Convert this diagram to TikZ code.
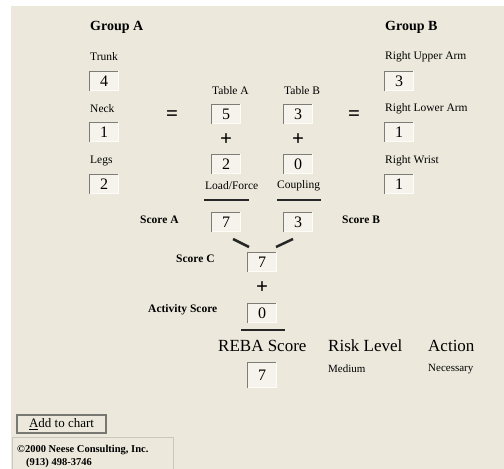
\documentclass[tikz,border=0pt]{standalone}
\usepackage{fontspec}
\setmainfont{Liberation Serif}
\definecolor{panel}{RGB}{236,233,220}
\definecolor{boxfill}{RGB}{245,243,235}
\definecolor{edgedark}{RGB}{125,125,120}
\definecolor{edgelight}{RGB}{252,252,248}
\definecolor{btnedge}{RGB}{120,120,115}
\definecolor{cpedge}{RGB}{200,200,190}
\tikzset{
  lbl/.style={anchor=west, inner sep=0pt, font=\fontsize{11.5}{13}\selectfont},
  blbl/.style={lbl, font=\bfseries\fontsize{11.5}{13}\selectfont},
  head/.style={anchor=west, inner sep=0pt, font=\bfseries\fontsize{14}{16}\selectfont},
  big/.style={anchor=west, inner sep=0pt, font=\fontsize{17}{19}\selectfont},
  numbox/.style={fill=boxfill, minimum width=28pt, minimum height=19pt, inner sep=0pt, font=\fontsize{16}{18}\selectfont},
  op/.style={inner sep=0pt, font=\bfseries\fontsize{21}{23}\selectfont},
  bar/.style={line width=2.5pt, black!85},
  edge/.style={edgedark, line width=1.3pt},
  hilite/.style={edgelight, line width=1pt}
}
\begin{document}
\begin{tikzpicture}[x=1pt, y=-1pt]
        \useasboundingbox (0,0) rectangle (504,469);
        \fill[white] (0,0) rectangle (504,469);
        \fill[panel] (11,6) rectangle (504,469);
        \node (groupA) at (90,27) [head] {Group A};
        \node (trunk) at (90,57) [lbl] {Trunk};
        \node (trunkbox) at (104,81) [numbox] {4};
        \node (neck) at (90,109) [lbl] {Neck};
        \node (neckbox) at (104,132) [numbox] {1};
        \node (legs) at (90,161) [lbl] {Legs};
        \node (legsbox) at (104,184) [numbox] {2};
        \node (eqA) at (172,116) [op] {=};
        \node (tableA) at (212,91) [lbl] {Table A};
        \node (tableAbox) at (226,114) [numbox] {5};
        \node (plusA) at (226,140) [op] {+};
        \node (loadbox) at (226,164) [numbox] {2};
        \node (load) at (205,186) [lbl] {Load/Force};
        \node (tableB) at (284,91) [lbl] {Table B};
        \node (tableBbox) at (298,114) [numbox] {3};
        \node (plusB) at (298,140) [op] {+};
        \node (coupbox) at (298,164) [numbox] {0};
        \node (coup) at (277,186) [lbl] {Coupling};
        \node (eqB) at (354,116) [op] {=};
        \node (groupB) at (385,27) [head] {Group B};
        \node (upper) at (385,57) [lbl] {Right Upper Arm};
        \node (upperbox) at (399,81) [numbox] {3};
        \node (lower) at (385,109) [lbl] {Right Lower Arm};
        \node (lowerbox) at (399,132) [numbox] {1};
        \node (wrist) at (385,161) [lbl] {Right Wrist};
        \node (wristbox) at (399,184) [numbox] {1};
        \node (scoreA) at (140,220) [blbl] {Score A};
        \node (scoreAbox) at (226,222) [numbox] {7};
        \node (scoreBbox) at (298,222) [numbox] {3};
        \node (scoreB) at (342,220) [blbl] {Score B};
        \node (scoreC) at (176,259) [blbl] {Score C};
        \node (scoreCbox) at (262,262) [numbox] {7};
        \node (plusC) at (262,288) [op] {+};
        \node (activity) at (148,310) [blbl] {Activity Score};
        \node (activitybox) at (262,313) [numbox] {0};
        \node (reba) at (218,346) [big] {REBA Score};
        \node (risk) at (328,346) [big] {Risk Level};
        \node (action) at (428,346) [big] {Action};
        \node (rebabox) at (262,375) [numbox, minimum height=25pt] {7};
        \node (medium) at (328,369) [lbl, font=\fontsize{11}{13}\selectfont] {Medium};
        \node (necessary) at (428,369) [lbl, font=\fontsize{11}{13}\selectfont] {Necessary};
        \foreach \b in {trunkbox, neckbox, legsbox, tableAbox, loadbox, tableBbox, coupbox,
            upperbox, lowerbox, wristbox, scoreAbox, scoreBbox, scoreCbox, activitybox, rebabox} {
          \draw[hilite] (\b.north east) |- (\b.south west);
          \draw[edge] (\b.south west) |- (\b.north east);
        }
        \coordinate (loadL) at (204,200);
        \coordinate (loadR) at (249,200);
        \coordinate (coupL) at (277,200);
        \coordinate (coupR) at (321,200);
        \coordinate (diagA1) at (233,239);
        \coordinate (diagA2) at (249,247);
        \coordinate (diagB1) at (276,247);
        \coordinate (diagB2) at (293,239);
        \coordinate (actL) at (241,330);
        \coordinate (actR) at (285,330);
        \draw[bar] (loadL) -- (loadR);
        \draw[bar] (coupL) -- (coupR);
        \draw[bar] (diagA1) -- (diagA2);
        \draw[bar] (diagB1) -- (diagB2);
        \draw[bar] (actL) -- (actR);
        \node (button) at (61.5,424) [draw=btnedge, line width=1.2pt, fill=panel, minimum width=89pt, minimum height=18pt, inner sep=0pt, font=\fontsize{13}{15}\selectfont] {\underline{A}dd to chart};
        \draw[cpedge, line width=1pt] (12,470) |- (173,437) -- (173,470);
        \node (copy1) at (17,450) [anchor=west, inner sep=0pt, font=\bfseries\fontsize{10.5}{12}\selectfont] {©2000 Neese Consulting, Inc.};
        \node (copy2) at (26,463) [anchor=west, inner sep=0pt, font=\bfseries\fontsize{10.5}{12}\selectfont] {(913) 498-3746};
    \end{tikzpicture}
\end{document}
